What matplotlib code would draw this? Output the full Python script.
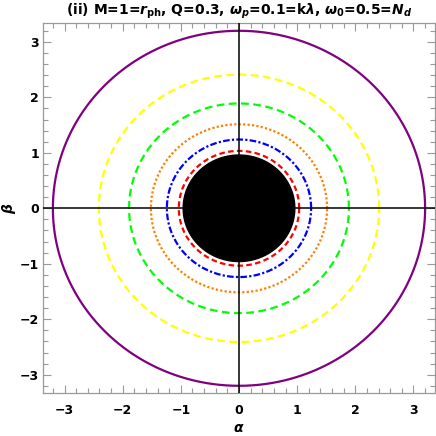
import matplotlib
matplotlib.use('Agg')
import matplotlib.pyplot as plt
import numpy as np

# shadow radii
radii = [3.2, 2.41, 1.89, 1.515, 1.24, 1.035]
colors = ['#800080', '#ffff00', '#00ff00', '#ff8000', '#0000ff', '#ff0000']
styles = ['-', (0, (3.5, 2)), (0, (3.5, 2)), (0, (1, 1)), (0, (3, 1, 1, 1)), (0, (2.5, 1.5))]
disk_radius = 0.96

x_ticks = [-3, -2, -1, 0, 1, 2, 3]
y_ticks = [-3, -2, -1, 0, 1, 2, 3]

plt.rcParams['mathtext.fontset'] = 'custom'
plt.rcParams['mathtext.rm'] = 'DejaVu Sans:bold'
plt.rcParams['mathtext.it'] = 'DejaVu Sans:italic:bold'
plt.rcParams['mathtext.bf'] = 'DejaVu Sans:bold'

fig = plt.figure(figsize=(4.36, 4.36), dpi=100)
ax = fig.add_axes([0.0986, 0.0986, 0.8991, 0.8486])

t = np.linspace(0, 2*np.pi, 721)

# black disk
ax.fill(disk_radius*np.cos(t), disk_radius*np.sin(t), color='black', zorder=2)

# circles
for r, c, ls in zip(radii, colors, styles):
    ax.plot(r*np.cos(t), r*np.sin(t), color=c, linestyle=ls, lw=1.6, zorder=3)

# axes through origin
ax.axhline(0, color='black', lw=1.1, zorder=4)
ax.axvline(0, color='black', lw=1.1, zorder=4)

ax.set_xlim(-3.37, 3.37)
ax.set_ylim(-3.33, 3.34)

ax.set_xticks(x_ticks)
ax.set_yticks(y_ticks)
ax.set_xticklabels(['\u2212%d' % -v if v < 0 else str(v) for v in x_ticks], fontweight='bold', fontsize=9)
ax.set_yticklabels(['\u2212%d' % -v if v < 0 else str(v) for v in y_ticks], fontweight='bold', fontsize=9)
ax.set_xticks(np.arange(-3.2, 3.3, 0.2), minor=True)
ax.set_yticks(np.arange(-3.2, 3.3, 0.2), minor=True)
ax.tick_params(which='both', direction='in', top=True, right=True, color='#999999', width=0.8)
ax.tick_params(which='major', length=6)
ax.tick_params(which='minor', length=3.5)
ax.tick_params(axis='x', which='major', pad=8)
ax.tick_params(axis='y', which='major', pad=3)
for s in ax.spines.values():
    s.set_color('#999999')
    s.set_linewidth(0.9)

ax.set_xlabel(r'$\alpha$', fontsize=10)
ax.set_ylabel(r'$\beta$', fontsize=10)
ax.xaxis.set_label_coords(0.5, -0.075)
ax.yaxis.set_label_coords(-0.063, 0.5)
ax.set_title(r'(ii) M=1=$r_{\mathrm{ph}}$, Q=0.3, $\omega_p$=0.1=k$\lambda$, $\omega_0$=0.5=$N_d$',
             fontsize=10, fontweight='bold', pad=6)

plt.savefig('out.png', dpi=100)
